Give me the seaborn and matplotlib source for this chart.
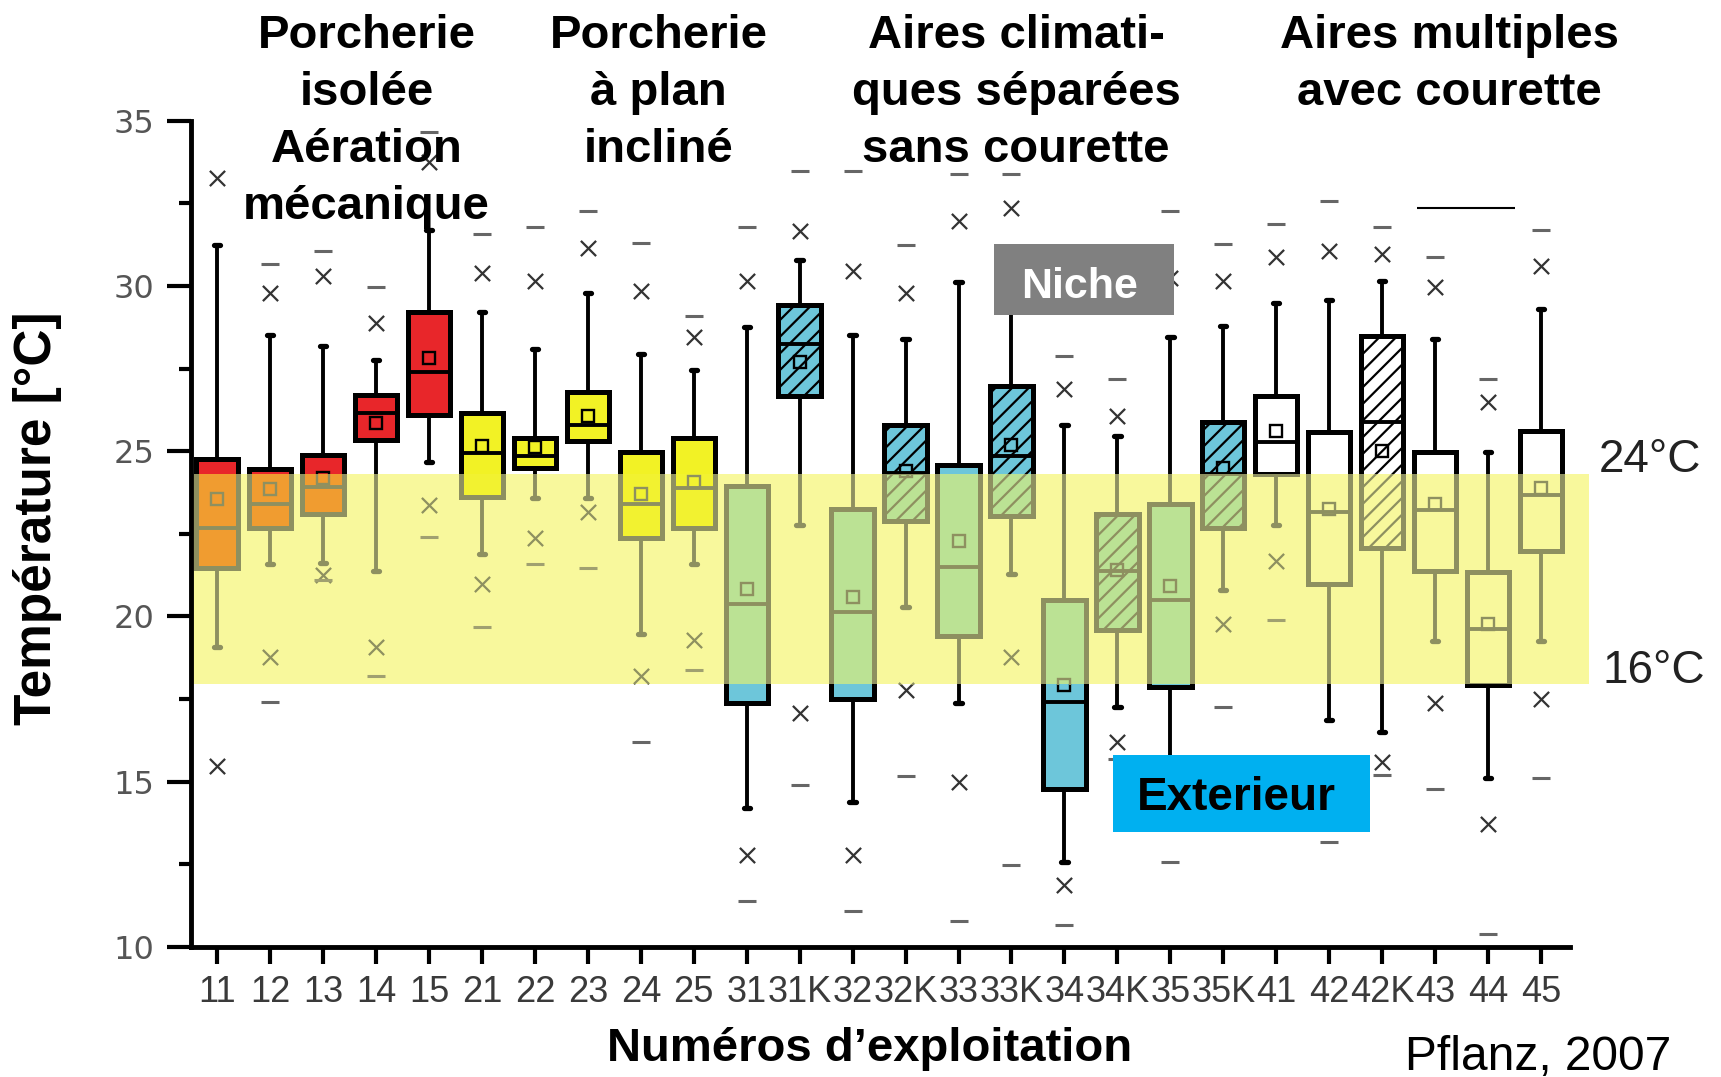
import numpy as np
import pandas as pd
import matplotlib
matplotlib.use("Agg")
import matplotlib.pyplot as plt
from matplotlib.patches import Rectangle
import seaborn as sns

# farm numbers on the x axis
farms = ["11", "12", "13", "14", "15", "21", "22", "23", "24", "25",
         "31", "31K", "32", "32K", "33", "33K", "34", "34K", "35", "35K",
         "41", "42", "42K", "43", "44", "45"]

# box statistics (deg C)
q3 = [24.77, 24.47, 24.90, 26.69, 29.20, 26.16, 25.40, 26.78, 24.97, 25.40,
      23.96, 29.41, 23.26, 25.79, 24.58, 26.98, 20.49, 23.09, 23.39, 25.88,
      26.68, 25.59, 28.50, 24.97, 21.34, 25.60]
med = [22.69, 23.41, 23.92, 26.16, 27.39, 24.95, 24.85, 25.78, 23.39, 23.89,
       20.39, 28.24, 20.15, 24.33, 21.50, 24.87, 17.42, 21.39, 20.49, 24.30,
       25.28, 23.17, 25.88, 23.21, 19.61, 23.69]
q1 = [21.48, 22.69, 23.09, 25.35, 26.11, 23.61, 24.50, 25.30, 22.38, 22.69,
      17.38, 26.68, 17.50, 22.89, 19.41, 23.04, 14.78, 19.58, 17.87, 22.69,
      24.30, 20.97, 22.08, 21.37, 17.92, 21.98]
mean = [23.54, 23.86, 24.20, 25.84, 27.82, 25.15, 25.12, 26.08, 23.72, 24.06,
        20.82, 27.70, 20.60, 24.40, 22.28, 25.20, 17.92, 21.42, 20.92, 24.50,
        25.60, 23.26, 25.02, 23.39, 19.78, 23.89]
whi = [31.24, 28.52, 28.19, 27.77, 31.70, 29.21, 28.09, 29.80, 27.95, 27.45,
       28.75, 30.79, 28.52, 28.39, 30.11, 30.20, 25.78, 25.47, 28.47, 28.78,
       29.48, 29.58, 30.16, 28.39, 24.97, 29.30]
wlo = [19.09, 21.58, 21.61, 21.37, 24.67, 21.88, 23.59, 23.59, 19.46, 21.58,
       14.21, 22.77, 14.40, 20.29, 17.38, 21.29, 12.58, 17.27, 15.30, 20.80,
       22.78, 16.86, 16.49, 19.26, 15.10, 19.26]
# 99 % / 1 % crosses
x_hi = [33.28, 29.79, 30.29, 28.88, 33.76, 30.39, 30.16, 31.15, 29.86, 28.47,
        30.16, 31.65, 30.46, 29.79, 31.98, 32.37, 26.88, 26.08, 30.24, 30.16,
        30.89, 31.06, 30.97, 29.98, 26.48, 30.59]
x_lo = [15.48, 18.78, 21.27, 19.08, 23.36, 20.97, 22.38, 23.16, 18.20, 19.28,
        12.79, 17.07, 12.79, 17.77, 14.98, 18.78, 11.88, 16.19, 14.00, 19.76,
        21.68, 14.50, 15.59, 17.38, 13.71, 17.50]
# max / min dashes
d_hi = [np.nan, 30.67, 31.07, 29.97, 34.67, 31.58, 31.78, 32.27, 31.30, 29.08,
        31.77, 33.48, 33.48, 31.24, 33.39, 33.39, 27.89, 27.19, 32.27, 31.26,
        31.87, 32.58, 31.77, 30.89, 27.20, 31.68]
d_lo = [np.nan, 17.40, 21.10, 18.20, 22.41, 19.68, 21.58, 21.48, 16.19, 18.37,
        11.39, 14.90, 11.08, 15.18, 10.78, 12.48, 10.68, 15.69, 12.58, 17.27,
        19.88, 13.19, 15.20, 14.78, 10.38, 15.10]

group_of = ["red"] * 5 + ["yellow"] * 5 + ["blue"] * 10 + ["white"] * 6
hatched = ["31K", "32K", "33K", "34K", "35K", "42K"]
stray_y = 32.35

band_lo, band_hi = 17.95, 24.32

# normal colours and the tinted colours seen through the yellow band
normal = {"edge": "black", "cross": "#333333", "dash": "#666666",
          "red": "#E8262A", "yellow": "#F2F225", "blue": "#6DC6DA", "white": "white"}
tinted = {"edge": "#8E9060", "cross": "#8E9060", "dash": "#A0A070",
          "red": "#F09C30", "yellow": "#F2F230", "blue": "#BBE294", "white": "#F8F89C"}

sns.set_theme(style="white")
plt.rcParams['font.family'] = ['Liberation Sans', 'DejaVu Sans']
plt.rcParams['hatch.linewidth'] = 1.6

W, H = 1721, 1077
fig = plt.figure(figsize=(W / 100, H / 100), dpi=100)
ax = fig.add_axes([190.7 / W, 1 - 947 / H, (1588.7 - 190.7) / W, (947 - 120.7) / H])

pos = np.arange(len(farms))
stats = []
for i in range(len(farms)):
    stats.append(dict(med=med[i], q1=q1[i], q3=q3[i], whislo=wlo[i],
                      whishi=whi[i], mean=mean[i], fliers=[]))

df_x = pd.DataFrame({"pos": np.r_[pos, pos], "val": np.r_[x_hi, x_lo]}).dropna()
df_d = pd.DataFrame({"pos": np.r_[pos, pos], "val": np.r_[d_hi, d_lo]}).dropna()
i43 = farms.index("43")
i44 = farms.index("44")


def draw_layer(cols, z, clip=None):
    bp = ax.bxp(stats, positions=pos, widths=0.8, patch_artist=True,
                showmeans=True, showfliers=False, capwidths=0.12,
                boxprops=dict(linewidth=3.6, edgecolor=cols["edge"]),
                medianprops=dict(color=cols["edge"], linewidth=2.8),
                whiskerprops=dict(color=cols["edge"], linewidth=2.8),
                capprops=dict(color=cols["edge"], linewidth=3.8),
                meanprops=dict(marker="s", markerfacecolor="none",
                               markeredgecolor=cols["edge"], markersize=9,
                               markeredgewidth=1.7),
                zorder=z)
    for patch, g, f in zip(bp["boxes"], group_of, farms):
        patch.set_facecolor(cols[g])
        if f in hatched:
            patch.set_hatch("//")
    n0 = len(ax.collections)
    sns.scatterplot(data=df_x, x="pos", y="val", marker="x", s=120, color=cols["cross"],
                    linewidth=1.6, ax=ax, zorder=z + 1, legend=False)
    sns.scatterplot(data=df_d, x="pos", y="val", marker="_", s=160, color=cols["dash"],
                    linewidth=2.2, ax=ax, zorder=z + 1, legend=False)
    ax.hlines(stray_y, pos[i43] - 0.35, pos[i44] + 0.5, color=cols["edge"], lw=1.5, zorder=z + 1)
    if clip is not None:
        for artists in bp.values():
            for a in artists:
                a.set_clip_path(clip)
        for c in ax.collections[n0:]:
            c.set_clip_path(clip)


draw_layer(normal, 2)

# comfort band and the boxes seen through it
ax.axhspan(band_lo, band_hi, color=tinted["white"], lw=0, zorder=10)
band_clip = Rectangle((-0.5, band_lo), 26.4, band_hi - band_lo, transform=ax.transData)
draw_layer(tinted, 11, clip=band_clip)

ax.set_xlim(-0.5, 25.9)
ax.set_ylim(10, 35)
ax.set_xlabel("")
ax.set_ylabel("")
ax.grid(False)
for s in ["top", "right"]:
    ax.spines[s].set_visible(False)
for s in ["left", "bottom"]:
    ax.spines[s].set_linewidth(3.5)
    ax.spines[s].set_color("black")
    ax.spines[s].set_zorder(15)
ax.spines["left"].set_bounds(10, 35)
ax.spines["bottom"].set_bounds(-0.5, 25.54)

ax.set_yticks([10, 15, 20, 25, 30, 35])
ax.set_yticks([12.5, 17.5, 22.5, 27.5, 32.5], minor=True)
ax.set_xticks(pos, farms)
ax.tick_params(axis="y", which="major", left=True, length=17, width=3,
               color="black", labelsize=23, pad=9, labelcolor="#555555")
ax.tick_params(axis="y", which="minor", left=True, length=9, width=3, color="black")
ax.tick_params(axis="x", bottom=True, length=12, width=3, color="black",
               labelsize=26, pad=8, labelcolor="#3a3a3a")
for lab in ax.get_yticklabels():
    lab.set_fontfamily("DejaVu Sans")


def fx(x):
    return x / W


def fy(y):
    return 1 - y / H


# group titles
titles = [
    (366.6, ["Porcherie", "isolée", "Aération", "mécanique"]),
    (658.6, ["Porcherie", "à plan", "incliné"]),
    (1016.0, ["Aires climati-", "ques séparées", "sans courette"]),
    (1449.0, ["Aires multiples", "avec courette"]),
]
for cx, lines in titles:
    for k, line in enumerate(lines):
        fig.text(fx(cx), fy(48.3 + 57 * k), line, ha="center", va="baseline",
                 fontsize=34, fontweight="bold", color="black")

# Niche / Exterieur labels
fig.add_artist(Rectangle((fx(994), fy(315)), fx(1174) - fx(994), fy(243.7) - fy(315),
                         transform=fig.transFigure, facecolor="#808080", edgecolor="none"))
fig.text(fx(1080), fy(298), "Niche", ha="center", va="baseline", fontsize=31,
         fontweight="bold", color="white")
fig.add_artist(Rectangle((fx(1113), fy(832)), fx(1370) - fx(1113), fy(755) - fy(832),
                         transform=fig.transFigure, facecolor="#00B0F0", edgecolor="none"))
fig.text(fx(1236), fy(810), "Exterieur", ha="center", va="baseline", fontsize=33,
         fontweight="bold", color="black")

fig.text(fx(1599), fy(472), "24°C", ha="left", va="baseline", fontsize=33, color="#222222")
fig.text(fx(1602), fy(683), "16°C", ha="left", va="baseline", fontsize=33, color="#222222")

fig.text(fx(870), fy(1061), "Numéros d’exploitation", ha="center", va="baseline",
         fontsize=34, fontweight="bold", color="black")
fig.text(fx(1405), fy(1070), "Pflanz, 2007", ha="left", va="baseline", fontsize=34.5,
         color="black")
fig.text(fx(38), fy(518), "Température [°C]", ha="center", va="center", rotation=90,
         fontsize=37, fontweight="bold", color="black")

fig.savefig("out.png", dpi=100)
